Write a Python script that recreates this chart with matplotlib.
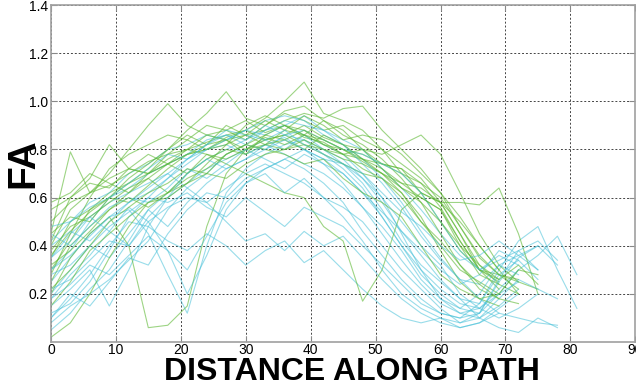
import numpy as np
import matplotlib
matplotlib.use("Agg")
import matplotlib.pyplot as plt

# FA profiles sampled every 3 units along the path (x = 0, 3, 6, ...)
STEP = 3

green_profiles = [
    [0.45, 0.79, 0.62, 0.70, 0.80, 0.90, 0.99, 0.90, 0.86, 0.88, 0.92, 0.87, 0.90, 0.85, 0.83, 0.78, 0.80, 0.72, 0.66, 0.60, 0.55, 0.42, 0.30, 0.25],
    [0.35, 0.50, 0.55, 0.62, 0.66, 0.72, 0.80, 0.88, 0.95, 1.04, 0.93, 0.90, 0.95, 0.92, 0.88, 0.90, 0.84, 0.80, 0.70, 0.62, 0.50, 0.38, 0.30, 0.28, 0.22],
    [0.30, 0.42, 0.55, 0.60, 0.58, 0.65, 0.72, 0.78, 0.80, 0.85, 0.88, 0.93, 1.00, 1.08, 0.95, 0.92, 0.88, 0.80, 0.74, 0.68, 0.58, 0.45, 0.32, 0.24, 0.20],
    [0.25, 0.40, 0.48, 0.55, 0.62, 0.70, 0.74, 0.78, 0.82, 0.84, 0.86, 0.88, 0.92, 0.95, 0.93, 0.97, 0.98, 0.88, 0.80, 0.72, 0.62, 0.48, 0.35, 0.28, 0.25],
    [0.50, 0.58, 0.62, 0.68, 0.72, 0.70, 0.76, 0.80, 0.83, 0.86, 0.88, 0.84, 0.86, 0.90, 0.85, 0.82, 0.80, 0.78, 0.82, 0.86, 0.78, 0.62, 0.45, 0.32, 0.25, 0.22],
    [0.36, 0.46, 0.54, 0.60, 0.66, 0.70, 0.74, 0.78, 0.80, 0.84, 0.80, 0.84, 0.86, 0.82, 0.80, 0.78, 0.76, 0.74, 0.72, 0.62, 0.58, 0.58, 0.57, 0.64, 0.45, 0.20],
    [0.20, 0.35, 0.45, 0.52, 0.40, 0.06, 0.07, 0.15, 0.48, 0.70, 0.80, 0.82, 0.88, 0.86, 0.82, 0.80, 0.75, 0.70, 0.62, 0.50, 0.40, 0.30, 0.25, 0.20],
    [0.40, 0.55, 0.62, 0.65, 0.70, 0.75, 0.78, 0.80, 0.78, 0.74, 0.70, 0.66, 0.62, 0.60, 0.48, 0.42, 0.17, 0.30, 0.55, 0.62, 0.58, 0.45, 0.30, 0.22],
    [0.28, 0.45, 0.60, 0.72, 0.78, 0.82, 0.86, 0.84, 0.90, 0.88, 0.84, 0.90, 0.96, 0.98, 0.92, 0.86, 0.82, 0.76, 0.68, 0.58, 0.45, 0.32, 0.22, 0.18],
    [0.55, 0.60, 0.66, 0.64, 0.72, 0.78, 0.74, 0.70, 0.76, 0.80, 0.78, 0.82, 0.80, 0.84, 0.80, 0.76, 0.74, 0.70, 0.66, 0.64, 0.58, 0.50, 0.40, 0.30, 0.20],
    [0.38, 0.48, 0.52, 0.58, 0.64, 0.68, 0.62, 0.66, 0.74, 0.82, 0.86, 0.82, 0.84, 0.88, 0.82, 0.78, 0.72, 0.68, 0.62, 0.52, 0.38, 0.25, 0.18, 0.15],
    [0.02, 0.08, 0.20, 0.35, 0.48, 0.58, 0.62, 0.70, 0.78, 0.76, 0.80, 0.85, 0.82, 0.86, 0.84, 0.80, 0.78, 0.74, 0.70, 0.66, 0.60, 0.48, 0.36, 0.28, 0.26],
    [0.45, 0.52, 0.50, 0.60, 0.68, 0.74, 0.80, 0.86, 0.82, 0.90, 0.86, 0.92, 0.88, 0.94, 0.90, 0.84, 0.86, 0.84, 0.78, 0.70, 0.62, 0.52, 0.40, 0.30],
    [0.32, 0.38, 0.46, 0.55, 0.60, 0.56, 0.62, 0.68, 0.72, 0.78, 0.82, 0.80, 0.78, 0.74, 0.76, 0.68, 0.62, 0.58, 0.52, 0.40, 0.28, 0.22, 0.18, 0.20, 0.30, 0.28],
    [0.58, 0.62, 0.70, 0.66, 0.62, 0.68, 0.74, 0.80, 0.86, 0.84, 0.78, 0.86, 0.90, 0.86, 0.92, 0.88, 0.80, 0.74, 0.72, 0.66, 0.56, 0.42, 0.30, 0.26, 0.32, 0.24],
    [0.22, 0.30, 0.40, 0.50, 0.56, 0.62, 0.66, 0.72, 0.70, 0.78, 0.82, 0.86, 0.84, 0.80, 0.86, 0.82, 0.76, 0.70, 0.64, 0.60, 0.55, 0.40, 0.28, 0.24],
    [0.42, 0.60, 0.68, 0.82, 0.72, 0.70, 0.78, 0.84, 0.80, 0.82, 0.90, 0.94, 0.90, 0.88, 0.84, 0.80, 0.76, 0.72, 0.64, 0.58, 0.50, 0.40, 0.32, 0.26],
    [0.15, 0.25, 0.38, 0.45, 0.52, 0.58, 0.60, 0.66, 0.70, 0.68, 0.74, 0.78, 0.80, 0.82, 0.78, 0.74, 0.70, 0.68, 0.60, 0.50, 0.42, 0.32, 0.24, 0.18, 0.16],
]

cyan_profiles = [
    [0.05, 0.12, 0.22, 0.30, 0.42, 0.55, 0.62, 0.70, 0.76, 0.80, 0.84, 0.88, 0.90, 0.86, 0.82, 0.78, 0.70, 0.60, 0.45, 0.30, 0.18, 0.12, 0.10, 0.15, 0.22],
    [0.20, 0.30, 0.40, 0.35, 0.45, 0.55, 0.48, 0.58, 0.66, 0.72, 0.76, 0.82, 0.85, 0.80, 0.76, 0.70, 0.62, 0.52, 0.40, 0.28, 0.20, 0.14, 0.12, 0.20, 0.30, 0.36, 0.44, 0.28],
    [0.10, 0.18, 0.28, 0.40, 0.50, 0.48, 0.42, 0.38, 0.45, 0.40, 0.32, 0.38, 0.42, 0.33, 0.38, 0.30, 0.22, 0.15, 0.10, 0.08, 0.10, 0.08, 0.12, 0.25, 0.35, 0.40],
    [0.25, 0.35, 0.45, 0.52, 0.55, 0.45, 0.28, 0.12, 0.40, 0.62, 0.72, 0.78, 0.82, 0.84, 0.78, 0.72, 0.64, 0.52, 0.40, 0.30, 0.22, 0.16, 0.14, 0.22, 0.30],
    [0.15, 0.22, 0.30, 0.15, 0.30, 0.48, 0.60, 0.66, 0.72, 0.76, 0.80, 0.84, 0.80, 0.86, 0.80, 0.74, 0.66, 0.55, 0.42, 0.32, 0.25, 0.18, 0.16, 0.30, 0.42, 0.48, 0.30, 0.14],
    [0.30, 0.38, 0.50, 0.60, 0.64, 0.70, 0.74, 0.78, 0.84, 0.86, 0.82, 0.88, 0.92, 0.90, 0.88, 0.84, 0.80, 0.72, 0.64, 0.55, 0.45, 0.36, 0.30, 0.34, 0.38, 0.30],
    [0.35, 0.45, 0.52, 0.58, 0.62, 0.66, 0.70, 0.64, 0.58, 0.50, 0.42, 0.45, 0.38, 0.46, 0.40, 0.44, 0.35, 0.26, 0.18, 0.12, 0.08, 0.06, 0.08, 0.14, 0.20],
    [0.42, 0.50, 0.58, 0.62, 0.70, 0.74, 0.80, 0.82, 0.86, 0.84, 0.88, 0.92, 0.94, 0.92, 0.86, 0.82, 0.74, 0.66, 0.56, 0.44, 0.34, 0.26, 0.24, 0.32, 0.28],
    [0.18, 0.28, 0.36, 0.46, 0.56, 0.50, 0.38, 0.20, 0.36, 0.55, 0.66, 0.72, 0.76, 0.80, 0.74, 0.66, 0.56, 0.45, 0.34, 0.24, 0.16, 0.12, 0.14, 0.20, 0.25],
    [0.08, 0.15, 0.20, 0.26, 0.34, 0.42, 0.55, 0.64, 0.70, 0.78, 0.82, 0.80, 0.86, 0.84, 0.80, 0.76, 0.68, 0.58, 0.46, 0.36, 0.26, 0.18, 0.10, 0.06, 0.04, 0.10, 0.06],
    [0.40, 0.46, 0.42, 0.50, 0.58, 0.64, 0.70, 0.76, 0.80, 0.82, 0.78, 0.82, 0.78, 0.74, 0.70, 0.64, 0.56, 0.48, 0.38, 0.26, 0.18, 0.14, 0.20, 0.32, 0.36, 0.30],
    [0.28, 0.32, 0.40, 0.48, 0.54, 0.60, 0.58, 0.62, 0.56, 0.52, 0.60, 0.54, 0.48, 0.56, 0.52, 0.48, 0.40, 0.32, 0.24, 0.16, 0.12, 0.10, 0.16, 0.28, 0.34],
    [0.12, 0.16, 0.25, 0.38, 0.52, 0.60, 0.68, 0.74, 0.80, 0.84, 0.88, 0.86, 0.90, 0.94, 0.88, 0.82, 0.76, 0.68, 0.58, 0.46, 0.35, 0.26, 0.18, 0.12, 0.10, 0.08, 0.07],
    [0.45, 0.40, 0.48, 0.56, 0.60, 0.58, 0.64, 0.72, 0.68, 0.74, 0.80, 0.76, 0.72, 0.78, 0.74, 0.70, 0.62, 0.54, 0.46, 0.38, 0.30, 0.24, 0.28, 0.38, 0.34, 0.26],
    [0.22, 0.26, 0.34, 0.42, 0.40, 0.50, 0.56, 0.60, 0.58, 0.64, 0.70, 0.74, 0.70, 0.66, 0.60, 0.56, 0.50, 0.40, 0.30, 0.22, 0.14, 0.08, 0.10, 0.18, 0.26, 0.22, 0.18],
    [0.30, 0.36, 0.44, 0.52, 0.58, 0.62, 0.68, 0.76, 0.82, 0.86, 0.84, 0.90, 0.86, 0.88, 0.84, 0.80, 0.78, 0.74, 0.70, 0.62, 0.50, 0.38, 0.30, 0.36, 0.32],
    [0.10, 0.20, 0.15, 0.25, 0.35, 0.32, 0.45, 0.55, 0.62, 0.60, 0.68, 0.72, 0.76, 0.72, 0.66, 0.58, 0.46, 0.36, 0.26, 0.18, 0.12, 0.10, 0.12, 0.26, 0.38, 0.42, 0.34],
    [0.35, 0.42, 0.52, 0.46, 0.40, 0.52, 0.60, 0.70, 0.76, 0.72, 0.76, 0.80, 0.84, 0.80, 0.76, 0.74, 0.68, 0.60, 0.50, 0.40, 0.32, 0.20, 0.14, 0.10, 0.14, 0.20],
    [0.18, 0.24, 0.32, 0.28, 0.36, 0.44, 0.38, 0.30, 0.44, 0.58, 0.66, 0.70, 0.62, 0.68, 0.60, 0.52, 0.42, 0.30, 0.20, 0.14, 0.10, 0.06, 0.08, 0.12],
    [0.48, 0.50, 0.56, 0.60, 0.66, 0.72, 0.78, 0.76, 0.82, 0.88, 0.86, 0.84, 0.88, 0.82, 0.78, 0.74, 0.70, 0.62, 0.54, 0.48, 0.40, 0.34, 0.36, 0.42, 0.36, 0.40, 0.32],
]

x_ticks = [0, 10, 20, 30, 40, 50, 60, 70, 80, 90]
y_ticks = [0.2, 0.4, 0.6, 0.8, 1.0, 1.2, 1.4]

GREEN = "#5cb832"
CYAN = "#45c0d8"
LABEL_FONT = ["Liberation Sans", "DejaVu Sans"]

fig = plt.figure(figsize=(6.36, 3.87), dpi=100)
ax = fig.add_axes([0.080, 0.116, 0.919, 0.871])

# interleave the two groups so neither sits fully on top
for i in range(max(len(green_profiles), len(cyan_profiles))):
    for group, col, a in ((cyan_profiles, CYAN, 0.55), (green_profiles, GREEN, 0.6)):
        if i < len(group):
            y = np.array(group[i])
            x = np.arange(len(y)) * STEP
            ax.plot(x, y, color=col, lw=0.8, alpha=a)

ax.set_xlim(0, 90)
ax.set_ylim(0, 1.4)
ax.set_xticks(x_ticks)
ax.set_yticks(y_ticks)
ax.set_yticklabels([f"{v:.1f}" for v in y_ticks])
ax.grid(True, linestyle=(0, (2, 2)), color="#444444", lw=0.7)
ax.tick_params(direction="in", length=4, colors="#888888", labelcolor="black",
               labelsize=10, top=True, right=True, pad=2)
ax.tick_params(axis="x", pad=1)
for lab in ax.get_xticklabels() + ax.get_yticklabels():
    lab.set_family(LABEL_FONT)
for s in ax.spines.values():
    s.set_color("#a0a0a0")
    s.set_linewidth(1.2)

fig.text(0.036, 0.578, "FA", rotation=90, ha="center", va="center",
         fontsize=28, fontweight="bold", family=LABEL_FONT)
fig.text(0.553, 0.040, "DISTANCE ALONG PATH", ha="center", va="center",
         fontsize=23, fontweight="bold", family=LABEL_FONT)

fig.savefig("out.png", dpi=100)
